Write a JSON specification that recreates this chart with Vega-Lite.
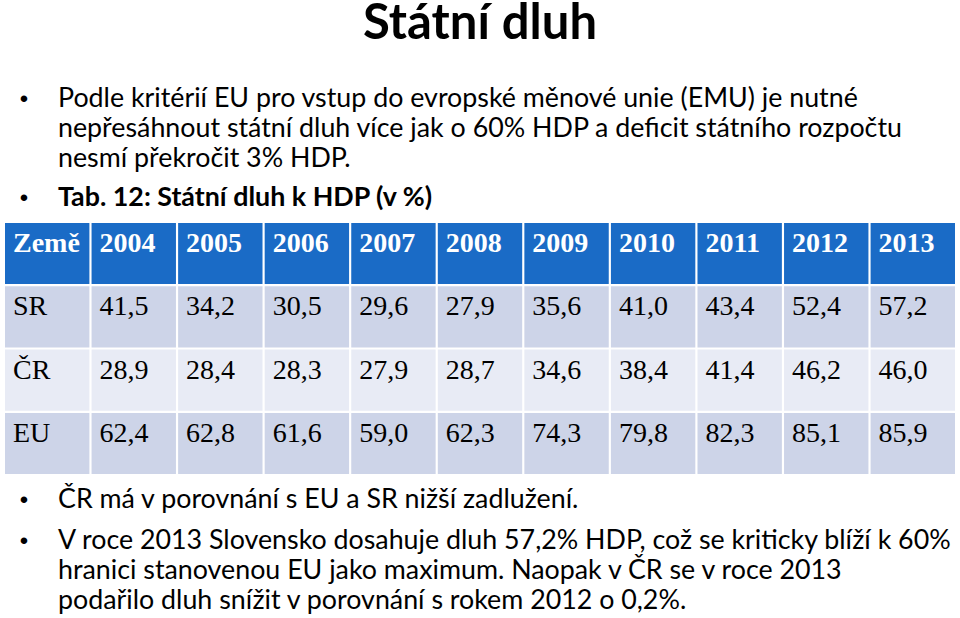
{
  "$schema": "https://vega.github.io/schema/vega-lite/v6.json",
  "width": 960,
  "height": 618,
  "autosize": {"type": "fit", "contains": "padding"},
  "padding": 0,
  "background": "white",
  "config": {
    "view": {"stroke": null},
    "locale": {"number": {"decimal": ",", "thousands": "\u00a0", "grouping": [3], "currency": ["", "\u00a0Kč"]}}
  },
  "datasets": {
    "columns": [
      {"col": "Země"}, {"col": "2004"}, {"col": "2005"}, {"col": "2006"}, {"col": "2007"}, {"col": "2008"},
      {"col": "2009"}, {"col": "2010"}, {"col": "2011"}, {"col": "2012"}, {"col": "2013"}
    ],
    "countries": [{"country": "SR"}, {"country": "ČR"}, {"country": "EU"}],
    "debt": [
      {"country": "SR", "year": "2004", "value": 41.5}, {"country": "SR", "year": "2005", "value": 34.2},
      {"country": "SR", "year": "2006", "value": 30.5}, {"country": "SR", "year": "2007", "value": 29.6},
      {"country": "SR", "year": "2008", "value": 27.9}, {"country": "SR", "year": "2009", "value": 35.6},
      {"country": "SR", "year": "2010", "value": 41.0}, {"country": "SR", "year": "2011", "value": 43.4},
      {"country": "SR", "year": "2012", "value": 52.4}, {"country": "SR", "year": "2013", "value": 57.2},
      {"country": "ČR", "year": "2004", "value": 28.9}, {"country": "ČR", "year": "2005", "value": 28.4},
      {"country": "ČR", "year": "2006", "value": 28.3}, {"country": "ČR", "year": "2007", "value": 27.9},
      {"country": "ČR", "year": "2008", "value": 28.7}, {"country": "ČR", "year": "2009", "value": 34.6},
      {"country": "ČR", "year": "2010", "value": 38.4}, {"country": "ČR", "year": "2011", "value": 41.4},
      {"country": "ČR", "year": "2012", "value": 46.2}, {"country": "ČR", "year": "2013", "value": 46.0},
      {"country": "EU", "year": "2004", "value": 62.4}, {"country": "EU", "year": "2005", "value": 62.8},
      {"country": "EU", "year": "2006", "value": 61.6}, {"country": "EU", "year": "2007", "value": 59.0},
      {"country": "EU", "year": "2008", "value": 62.3}, {"country": "EU", "year": "2009", "value": 74.3},
      {"country": "EU", "year": "2010", "value": 79.8}, {"country": "EU", "year": "2011", "value": 82.3},
      {"country": "EU", "year": "2012", "value": 85.1}, {"country": "EU", "year": "2013", "value": 85.9}
    ],
    "lines": [
      {"role": "title", "bullet": false, "line": 1.3, "text": "Státní dluh"},
      {"role": "body", "bullet": true, "line": 3.55, "text": "Podle kritérií EU pro vstup do evropské měnové unie (EMU) je nutné"},
      {"role": "body", "bullet": false, "line": 4.55, "text": "nepřesáhnout státní dluh více jak o 60% HDP a deficit státního rozpočtu"},
      {"role": "body", "bullet": false, "line": 5.55, "text": "nesmí překročit 3% HDP."},
      {"role": "caption", "bullet": true, "line": 6.87, "text": "Tab. 12: Státní dluh k HDP (v %)"},
      {"role": "body", "bullet": true, "line": 16.93, "text": "ČR má v porovnání s EU a SR nižší zadlužení."},
      {"role": "body", "bullet": true, "line": 18.3, "text": "V roce 2013 Slovensko dosahuje dluh 57,2% HDP, což se kriticky blíží k 60%"},
      {"role": "body", "bullet": false, "line": 19.3, "text": "hranici stanovenou EU jako maximum. Naopak v ČR se v roce 2013"},
      {"role": "body", "bullet": false, "line": 20.3, "text": "podařilo dluh snížit v porovnání s rokem 2012 o 0,2%."}
    ]
  },
  "layer": [
    {
      "layer": [
        {
          "data": {"name": "columns"},
          "mark": {"type": "rect", "color": "#1A6BC6"},
          "encoding": {
            "x": {"field": "col", "type": "ordinal", "axis": null,
                  "scale": {"type": "band", "domain": ["Země", "2004", "2005", "2006", "2007", "2008", "2009", "2010", "2011", "2012", "2013"], "range": [5, 955], "paddingInner": 0.025, "paddingOuter": 0}},
            "y": {"datum": "head", "type": "ordinal", "axis": null,
                  "scale": {"type": "band", "domain": ["head", "SR", "ČR", "EU"], "range": [223, 474], "paddingInner": 0.035, "paddingOuter": 0}}
          }
        },
        {
          "data": {"name": "countries"},
          "mark": {"type": "rect"},
          "encoding": {
            "x": {"datum": "Země", "type": "ordinal"},
            "y": {"field": "country", "type": "ordinal"},
            "color": {"field": "country", "type": "nominal", "legend": null,
                      "scale": {"domain": ["SR", "ČR", "EU"], "range": ["#CDD4E8", "#E8EBF5", "#CDD4E8"]}}
          }
        },
        {
          "data": {"name": "debt"},
          "mark": {"type": "rect"},
          "encoding": {
            "x": {"field": "year", "type": "ordinal"},
            "y": {"field": "country", "type": "ordinal"},
            "color": {"field": "country", "type": "nominal", "legend": null}
          }
        },
        {
          "data": {"name": "columns"},
          "mark": {"type": "text", "align": "left", "baseline": "alphabetic", "dx": 8, "dy": 29, "font": "Liberation Serif", "fontSize": 28, "fontWeight": "bold", "color": "white"},
          "encoding": {
            "x": {"field": "col", "type": "ordinal", "bandPosition": 0},
            "y": {"datum": "head", "type": "ordinal", "bandPosition": 0},
            "text": {"field": "col"}
          }
        },
        {
          "data": {"name": "countries"},
          "mark": {"type": "text", "align": "left", "baseline": "alphabetic", "dx": 8, "dy": 29, "font": "Liberation Serif", "fontSize": 28, "color": "black"},
          "encoding": {
            "x": {"datum": "Země", "type": "ordinal", "bandPosition": 0},
            "y": {"field": "country", "type": "ordinal", "bandPosition": 0},
            "text": {"field": "country"}
          }
        },
        {
          "data": {"name": "debt"},
          "mark": {"type": "text", "align": "left", "baseline": "alphabetic", "dx": 8, "dy": 29, "font": "Liberation Serif", "fontSize": 28, "color": "black"},
          "encoding": {
            "x": {"field": "year", "type": "ordinal", "bandPosition": 0},
            "y": {"field": "country", "type": "ordinal", "bandPosition": 0},
            "text": {"field": "value", "type": "quantitative", "format": ".1f"}
          }
        }
      ]
    },
    {
      "data": {"name": "lines"},
      "layer": [
        {
          "transform": [{"filter": "datum.role === 'title'"}],
          "mark": {"type": "text", "align": "center", "baseline": "alphabetic", "x": {"expr": "width / 2"}, "font": "Lato", "fontSize": 49, "fontWeight": "bold", "color": "black"},
          "encoding": {
            "y": {"field": "line", "type": "quantitative", "axis": null, "scale": {"domain": [0, 20], "range": [0, 600], "zero": false, "nice": false}},
            "text": {"field": "text"}
          }
        },
        {
          "transform": [{"filter": "datum.bullet"}],
          "mark": {"type": "text", "align": "center", "baseline": "alphabetic", "text": "•", "font": "Liberation Sans", "fontSize": 24, "color": "black"},
          "encoding": {
            "x": {"datum": "bullet", "type": "ordinal", "axis": null, "scale": {"type": "point", "domain": ["bullet", "text"], "range": [24, 58], "padding": 0}},
            "y": {"field": "line", "type": "quantitative"}
          }
        },
        {
          "transform": [{"filter": "datum.role === 'body'"}],
          "mark": {"type": "text", "align": "left", "baseline": "alphabetic", "font": "Lato", "fontSize": 26.8, "color": "black"},
          "encoding": {
            "x": {"datum": "text", "type": "ordinal"},
            "y": {"field": "line", "type": "quantitative"},
            "text": {"field": "text"}
          }
        },
        {
          "transform": [{"filter": "datum.role === 'caption'"}],
          "mark": {"type": "text", "align": "left", "baseline": "alphabetic", "font": "Lato", "fontSize": 26.8, "fontWeight": "bold", "color": "black"},
          "encoding": {
            "x": {"datum": "text", "type": "ordinal"},
            "y": {"field": "line", "type": "quantitative"},
            "text": {"field": "text"}
          }
        }
      ]
    }
  ],
  "resolve": {"scale": {"x": "independent", "y": "independent", "color": "independent"}}
}
